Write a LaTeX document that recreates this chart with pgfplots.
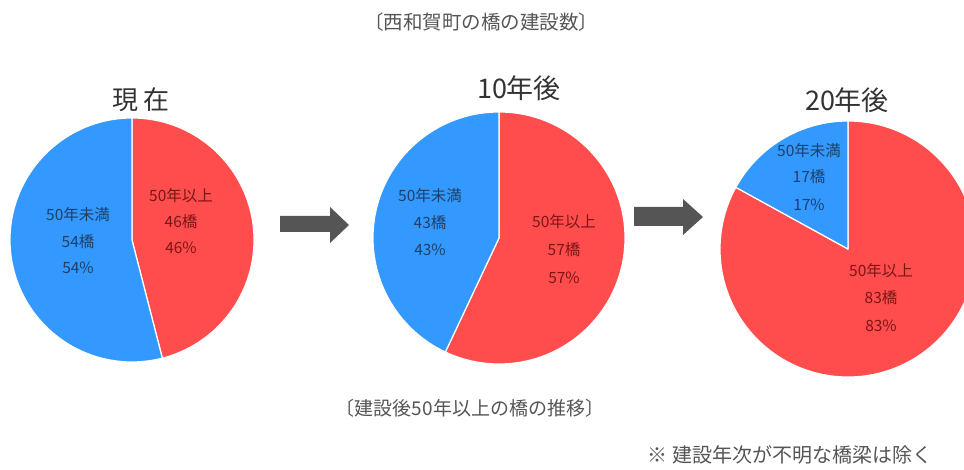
\documentclass[border=0pt]{standalone}
\usepackage{pgfplots}
\pgfplotsset{compat=1.18}
\usepackage{pgfplotstable}
\usepackage{fontspec}
\setmainfont{Noto Sans CJK JP}
\definecolor{pieblue}{HTML}{3399FF}
\definecolor{piered}{HTML}{FF4D4D}
\definecolor{lblblue}{HTML}{1F3F66}
\definecolor{lblred}{HTML}{7A1616}
\definecolor{arrowgray}{HTML}{555555}
\definecolor{titlegray}{HTML}{333333}
\definecolor{capgray}{HTML}{555555}
% period, bridges under 50 years, bridges 50 years or older, centre x, centre y, radius (px)
\pgfplotstableread{
idx lt ge cx cy r
0 54 46 132 240 122
1 43 57 499 238 126
2 17 83 848 249 128
}\pietable
\newcommand{\drawpie}[1]{%
  \pgfplotstablegetelem{#1}{ge}\of\pietable\edef\vge{\pgfplotsretval}%
  \pgfplotstablegetelem{#1}{cx}\of\pietable\edef\vcx{\pgfplotsretval}%
  \pgfplotstablegetelem{#1}{cy}\of\pietable\edef\vcy{\pgfplotsretval}%
  \pgfplotstablegetelem{#1}{r}\of\pietable\edef\vr{\pgfplotsretval}%
  \pgfmathsetmacro{\vend}{90-3.6*\vge}%
  \edef\temp{\noexpand\fill[piered,draw=white,line width=1.2pt,line join=round] (axis cs:\vcx,\vcy) -- ++(90:\vr pt) arc[start angle=90,end angle=\vend,radius=\vr pt] -- cycle;
  \noexpand\fill[pieblue,draw=white,line width=1.2pt,line join=round] (axis cs:\vcx,\vcy) -- ++(90:\vr pt) arc[start angle=90,end angle=\vend+360,radius=\vr pt] -- cycle;}%
  \temp
}
\begin{document}
\begin{tikzpicture}
\begin{axis}[x=1pt,y=1pt,y dir=reverse,xmin=0,xmax=964,ymin=0,ymax=470,
  hide axis,scale only axis,clip=true,axis line style={draw=none}]
\addplot[draw=none] coordinates {(0,0) (964,470)};
\drawpie{0}
\drawpie{1}
\drawpie{2}
% arrows
\fill[arrowgray] (axis cs:280,216) -- (axis cs:330,216) -- (axis cs:330,207) -- (axis cs:349,225) -- (axis cs:330,243) -- (axis cs:330,232) -- (axis cs:280,232) -- cycle;
\fill[arrowgray] (axis cs:634,207) -- (axis cs:683,207) -- (axis cs:683,199) -- (axis cs:703,217) -- (axis cs:683,235) -- (axis cs:683,226) -- (axis cs:634,226) -- cycle;
% titles
\node[text=capgray,font=\fontsize{19.5}{22}\selectfont] at (axis cs:481,22) {〔西和賀町の橋の建設数〕};
\node[text=titlegray,font=\fontsize{26}{30}\selectfont] at (axis cs:141,100) {現 在};
\node[text=titlegray,font=\fontsize{27}{30}\selectfont] at (axis cs:519,88) {10年後};
\node[text=titlegray,font=\fontsize{27}{30}\selectfont] at (axis cs:847,100) {20年後};
\node[text=capgray,font=\fontsize{19}{22}\selectfont] at (axis cs:470,408) {〔建設後50年以上の橋の推移〕};
\node[text=capgray,font=\fontsize{20}{23}\selectfont] at (axis cs:790,455) {※ 建設年次が不明な橋梁は除く};
% slice labels
\begin{scope}[font=\fontsize{15.5}{18}\selectfont]
\node[text=lblblue] at (axis cs:78,215) {50年未満};
\node[text=lblblue] at (axis cs:78,242) {54橋};
\node[text=lblblue] at (axis cs:78,268) {54\%};
\node[text=lblred] at (axis cs:181,196) {50年以上};
\node[text=lblred] at (axis cs:181,222) {46橋};
\node[text=lblred] at (axis cs:181,248) {46\%};
\node[text=lblblue] at (axis cs:430,196) {50年未満};
\node[text=lblblue] at (axis cs:430,223) {43橋};
\node[text=lblblue] at (axis cs:430,250) {43\%};
\node[text=lblred] at (axis cs:564,222) {50年以上};
\node[text=lblred] at (axis cs:564,250) {57橋};
\node[text=lblred] at (axis cs:564,278) {57\%};
\node[text=lblblue] at (axis cs:809,151) {50年未満};
\node[text=lblblue] at (axis cs:809,177) {17橋};
\node[text=lblblue] at (axis cs:809,205) {17\%};
\node[text=lblred] at (axis cs:881,271) {50年以上};
\node[text=lblred] at (axis cs:881,298) {83橋};
\node[text=lblred] at (axis cs:881,326) {83\%};
\end{scope}
\end{axis}
\end{tikzpicture}
\end{document}
